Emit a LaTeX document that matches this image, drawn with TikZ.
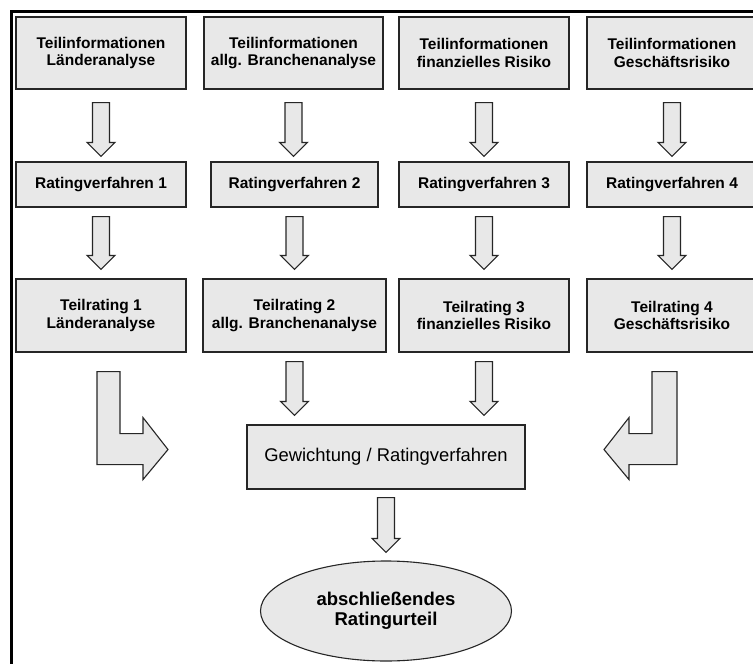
\documentclass[tikz,border=0pt]{standalone}
\usepackage{fontspec}
\setmainfont{Liberation Sans}
\usetikzlibrary{calc,shapes.geometric}

\definecolor{boxfill}{RGB}{232,232,232}
\definecolor{boxline}{RGB}{38,38,38}

\tikzset{
  infobox/.style={draw=boxline, fill=boxfill, line width=1.1pt, inner sep=0pt,
    align=center, font=\fontsize{15.5}{17.5}\selectfont\bfseries},
  weightbox/.style={draw=boxline, fill=boxfill, line width=1.1pt, inner sep=0pt,
    align=center, font=\fontsize{18.4}{21}\selectfont},
  resultoval/.style={ellipse, draw=boxline, fill=boxfill, line width=1.1pt, inner sep=0pt,
    align=center, font=\fontsize{18.5}{20.5}\selectfont\bfseries},
  blockarrow/.style={draw=boxline, fill=boxfill, line width=1.1pt, line join=miter},
  frameline/.style={line width=3pt, black}
}

% hollow block arrow from node #1 down to node #2 (x of #1),
% #3 = gap below #1, #4 = gap above #2
\newcommand{\blockdown}[4]{%
  \coordinate (bs) at ($(#1.south)+(0,#3)$);
  \coordinate (be) at ($(#1.south |- #2.north)+(0,-#4)$);
  \draw[blockarrow] ($(bs)+(-8.5,0)$) -- ($(bs)+(8.5,0)$) -- ($(be)+(8.5,-14)$)
    -- ($(be)+(14,-14)$) -- (be) -- ($(be)+(-14,-14)$) -- ($(be)+(-8.5,-14)$) -- cycle;
}

\begin{document}
\begin{tikzpicture}[x=1pt,y=-1pt]
\useasboundingbox (0,0) rectangle (753,664);
\begin{scope}
\clip (0,0) rectangle (753,664);

% outer frame (top and left edge)
\draw[frameline] (11.5,664) -- (11.5,11.5) -- (753,11.5);

% row 1: partial information
\node[infobox, minimum width=170, minimum height=72] (i1) at (101,53)
  {Teilinformationen\\Länderanalyse};
\node[infobox, minimum width=179, minimum height=72] (i2) at (293.5,53)
  {Teilinformationen\\allg. Branchenanalyse};
\node[infobox, minimum width=170, minimum height=72] (i3) at (484,53)
  {Teilinformationen\\finanzielles Risiko};
\node[infobox, minimum width=170, minimum height=72] (i4) at (672,53)
  {Teilinformationen\\Geschäftsrisiko};

% row 2: rating procedures
\node[infobox, minimum width=170, minimum height=45] (r1) at (101,184.5) {Ratingverfahren 1};
\node[infobox, minimum width=167, minimum height=45] (r2) at (294.5,184.5) {Ratingverfahren 2};
\node[infobox, minimum width=170, minimum height=45] (r3) at (484,184.5) {Ratingverfahren 3};
\node[infobox, minimum width=170, minimum height=45] (r4) at (672,184.5) {Ratingverfahren 4};

% row 3: partial ratings
\node[infobox, minimum width=170, minimum height=73] (t1) at (101,315.5)
  {Teilrating 1\\Länderanalyse};
\node[infobox, minimum width=183, minimum height=73] (t2) at (294.5,315.5)
  {Teilrating 2\\allg. Branchenanalyse};
\node[infobox, minimum width=170, minimum height=73] (t3) at (484,315.5)
  {Teilrating 3\\finanzielles Risiko};
\node[infobox, minimum width=170, minimum height=73] (t4) at (672,315.5)
  {Teilrating 4\\Geschäftsrisiko};

% weighting and final result
\node[weightbox, minimum width=278, minimum height=64] (gew) at (386,457)
  {Gewichtung / Ratingverfahren};
\node[resultoval, minimum width=251, minimum height=100] (final) at (386,611)
  {abschließendes\\Ratingurteil};

% straight block arrows
\blockdown{i1}{r1}{13}{5}
\blockdown{i2}{r2}{13}{5}
\blockdown{i3}{r3}{13}{5}
\blockdown{i4}{r4}{13}{5}
\blockdown{r1}{t1}{9}{9}
\blockdown{r2}{t2}{9}{9}
\blockdown{r3}{t3}{9}{9}
\blockdown{r4}{t4}{9}{9}
\blockdown{t2}{gew}{9}{9}
\blockdown{t3}{gew}{9}{9}
\blockdown{gew}{final}{8}{8}

% bent block arrows from the outer columns towards the weighting box
\draw[blockarrow] ($(t1.south)+(-4,19)$) -- ++(23,0) -- ++(0,62) -- ++(23,0)
  -- ++(0,-16) -- ++(25,32) -- ++(-25,30) -- ++(0,-15) -- ++(-46,0) -- cycle;
\draw[blockarrow] ($(t4.south)+(5,19)$) -- ++(-25,0) -- ++(0,62) -- ++(-23,0)
  -- ++(0,-16) -- ++(-25,32) -- ++(25,30) -- ++(0,-15) -- ++(48,0) -- cycle;
\end{scope}
\end{tikzpicture}
\end{document}
